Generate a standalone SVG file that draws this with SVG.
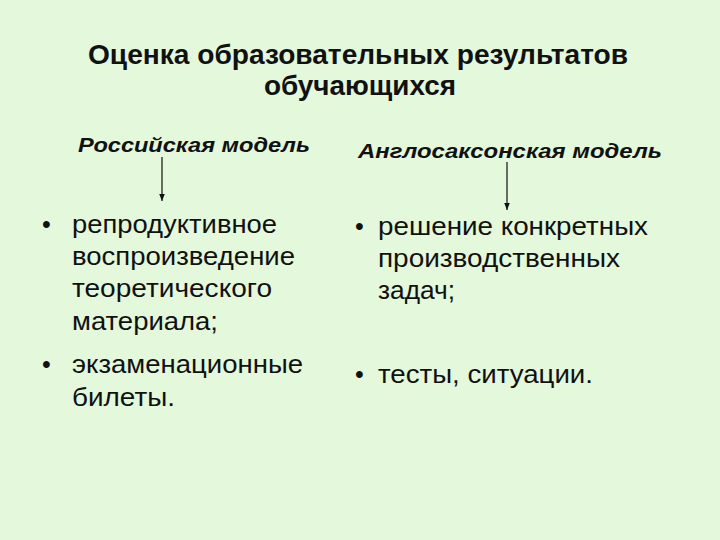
<svg xmlns="http://www.w3.org/2000/svg" width="720" height="540" viewBox="0 0 720 540">
<defs>
<style>
.title{font-family:"Liberation Sans",Arial,sans-serif;font-weight:bold;font-size:28px;fill:#111}
.head{font-family:"Liberation Sans",Arial,sans-serif;font-weight:bold;font-style:italic;font-size:21px;fill:#111}
.item{font-family:"Liberation Sans",Arial,sans-serif;font-size:25px;fill:#111}
.conn{stroke:#111;stroke-width:1.2;fill:none}
</style>
<marker id="ah" viewBox="0 0 10 10" refX="10" refY="5" markerWidth="7" markerHeight="7" markerUnits="userSpaceOnUse" orient="auto">
<path d="M0,1 L10,5 L0,9 Z" fill="#111"/>
</marker>
</defs>
<rect width="720" height="540" fill="#E4F8DC"/>
<g id="title">
<text class="title" x="88" y="64" textLength="540" lengthAdjust="spacingAndGlyphs">Оценка образовательных результатов</text>
<text class="title" x="264" y="95" textLength="192" lengthAdjust="spacingAndGlyphs">обучающихся</text>
</g>
<g id="russian">
<text class="head" x="78" y="152" textLength="232" lengthAdjust="spacingAndGlyphs">Российская модель</text>
</g>
<g id="anglo">
<text class="head" x="358" y="158" textLength="304" lengthAdjust="spacingAndGlyphs">Англосаксонская модель</text>
</g>
<g id="russian-items">
<text class="item" x="42" y="233">•</text>
<text class="item" x="72" y="233" textLength="205" lengthAdjust="spacingAndGlyphs">репродуктивное</text>
<text class="item" x="72" y="265" textLength="223" lengthAdjust="spacingAndGlyphs">воспроизведение</text>
<text class="item" x="72" y="297" textLength="200" lengthAdjust="spacingAndGlyphs">теоретического</text>
<text class="item" x="72" y="330" textLength="146" lengthAdjust="spacingAndGlyphs">материала;</text>
<text class="item" x="42" y="373">•</text>
<text class="item" x="72" y="373" textLength="231" lengthAdjust="spacingAndGlyphs">экзаменационные</text>
<text class="item" x="72" y="406" textLength="103" lengthAdjust="spacingAndGlyphs">билеты.</text>
</g>
<g id="anglo-items">
<text class="item" x="355" y="235">•</text>
<text class="item" x="378" y="235" textLength="270" lengthAdjust="spacingAndGlyphs">решение конкретных</text>
<text class="item" x="378" y="267" textLength="242" lengthAdjust="spacingAndGlyphs">производственных</text>
<text class="item" x="378" y="299" textLength="77" lengthAdjust="spacingAndGlyphs">задач;</text>
<text class="item" x="355" y="383">•</text>
<text class="item" x="378" y="383" textLength="215" lengthAdjust="spacingAndGlyphs">тесты, ситуации.</text>
</g>
<g id="connectors">
<line class="conn" x1="162" y1="157" x2="162" y2="201" marker-end="url(#ah)"/>
<line class="conn" x1="507" y1="162" x2="507" y2="210" marker-end="url(#ah)"/>
</g>
</svg>
